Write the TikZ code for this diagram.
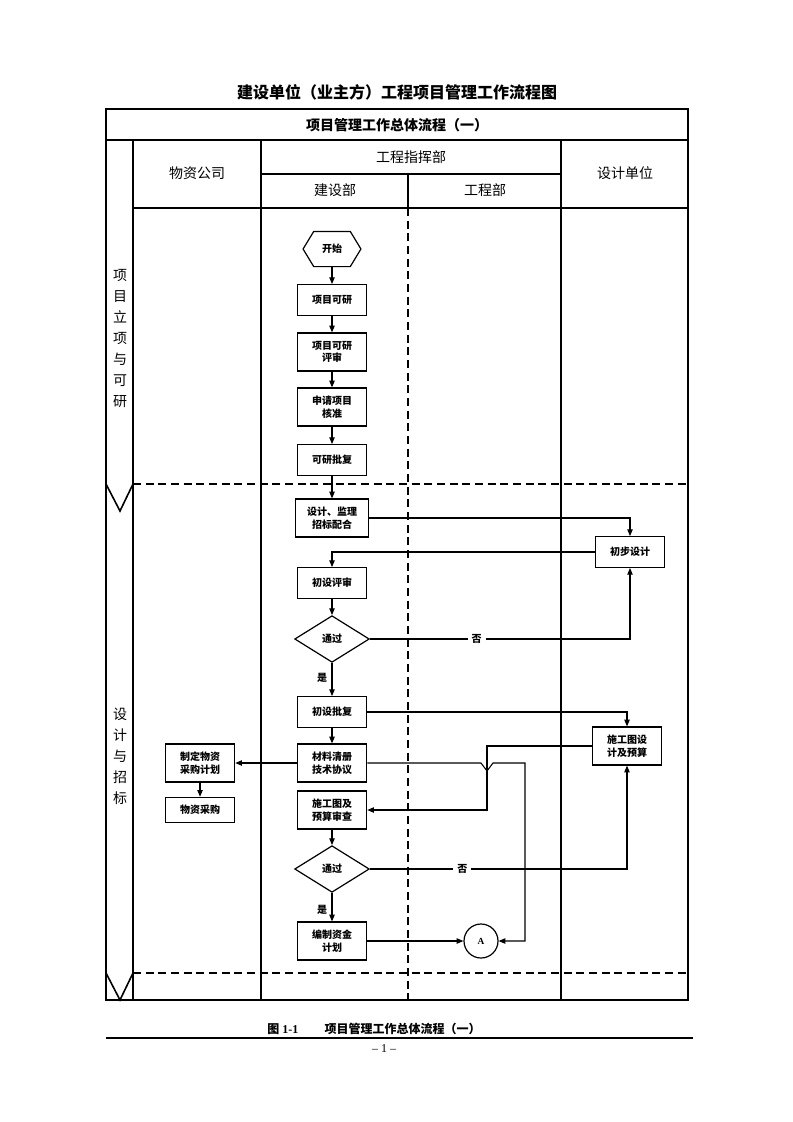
\documentclass[tikz,border=0pt]{standalone}
\usepackage{fontspec}
\setmainfont{Liberation Serif}
\newfontfamily\cjk{Noto Sans CJK SC}
\usetikzlibrary{shapes.geometric}
\usetikzlibrary{arrows.meta}

\newcommand{\boxfont}{\cjk\bfseries\fontsize{7.5}{9.5}\selectfont}
\newcommand{\headfont}{\cjk\fontsize{10.5}{12}\selectfont}

\tikzset{
    stepbox/.style={draw, line width=0.9pt, minimum width=52pt, minimum height=23pt, inner sep=1pt, align=center, font=\boxfont},
    stepbox2/.style={stepbox, minimum height=28.5pt},
    decide/.style={draw, diamond, aspect=1.6, line width=0.9pt, minimum width=56pt, minimum height=35pt, inner sep=0pt, font=\boxfont},
    flow/.style={-{Triangle[length=5pt,width=4pt]}, line width=0.8pt},
    lanesep/.style={line width=1.4pt, dash pattern=on 6pt off 3.5pt},
    headtxt/.style={font=\headfont},
    lbl/.style={font=\boxfont, fill=white, inner sep=3pt},
}

\begin{document}
\begin{tikzpicture}[x=0.75pt, y=-0.75pt]
    \useasboundingbox (0,0) rectangle (793,1122);
    \node (title) at (397,92) {\cjk\bfseries\fontsize{12}{14}\selectfont 建设单位（业主方）工程项目管理工作流程图};
    % table frame
    \draw [line width=1.5pt] (106,109) rectangle (688,1000);
    \draw [line width=1.2pt] (106,140) -- (688,140);
    \node (sub) at (397,125) {\cjk\bfseries\fontsize{10.5}{12}\selectfont 项目管理工作总体流程（一）};
    \draw [line width=1.2pt] (133,140) -- (133,1000);
    \draw [line width=1.2pt] (261,140) -- (261,1000);
    \draw [line width=1.2pt] (561,140) -- (561,1000);
    \draw [line width=1.2pt] (261,174) -- (561,174);
    \draw [line width=1.2pt] (408,174) -- (408,208);
    \draw [line width=1.2pt] (133,208) -- (688,208);
    \draw [lanesep] (408,208) -- (408,1000);
    \draw [lanesep] (133,484) -- (688,484); % stage split
    \draw [lanesep] (133,973) -- (688,973);
    \draw [line width=1.2pt] (106,484) -- (120,511) -- (133,484);
    \draw [line width=1.2pt] (106,973) -- (120,1000) -- (133,973);
    % header
    \node [headtxt] (wzgs) at (197,173) {物资公司};
    \node [headtxt] (zhb) at (411,157) {工程指挥部};
    \node [headtxt] (jsb) at (335,190) {建设部};
    \node [headtxt] (gcb) at (485,190) {工程部};
    \node [headtxt] (sjdw) at (625,173) {设计单位};
    % stages
    \node [align=center, font=\cjk\fontsize{10.5}{15.75}\selectfont] (stage1) at (120,339) {项\\目\\立\\项\\与\\可\\研};
    \node [align=center, font=\cjk\fontsize{10.5}{15.75}\selectfont] (stage2) at (120,756) {设\\计\\与\\招\\标};
    % project approval
    \node [minimum width=27pt, minimum height=26pt, font=\boxfont] (start) at (332,249) {开始};
    \draw [line width=0.9pt] (start.north west) -- (start.north east) -- ([xshift=8pt]start.east) -- (start.south east) -- (start.south west) -- ([xshift=-8pt]start.west) -- cycle;
    \node [stepbox] (kyan) at (332,300) {项目可研};
    \node [stepbox2] (kyps) at (332,352) {项目可研\\评审};
    \node [stepbox2] (sqhz) at (332,407) {申请项目\\核准};
    \node [stepbox] (kypf) at (332,460) {可研批复};
    \draw [flow] (start) -- (kyan);
    \draw [flow] (kyan) -- (kyps);
    \draw [flow] (kyps) -- (sqhz);
    \draw [flow] (sqhz) -- (kypf);
    % design and tender
    \node [stepbox2, minimum width=55pt] (zbph) at (332,518) {设计、监理\\招标配合};
    \node [stepbox] (cbsj) at (630,552) {初步设计};
    \node [stepbox] (csps) at (332,583) {初设评审};
    \node [decide] (pass1) at (332,639) {通过};
    \node [stepbox] (cspf) at (332,712) {初设批复};
    \node [stepbox2] (sgsj) at (627,746) {施工图设\\计及预算};
    \node [stepbox2] (zdcg) at (200,763) {制定物资\\采购计划};
    \node [stepbox, minimum height=19pt] (wzcg) at (200,810) {物资采购};
    \node [stepbox2] (clqc) at (332,763) {材料清册\\技术协议};
    \node [stepbox2] (sgsc) at (332,810) {施工图及\\预算审查};
    \node [decide] (pass2) at (332,869) {通过};
    \node [stepbox2] (bzzj) at (332,941) {编制资金\\计划};
    \node [draw, circle, line width=0.9pt, minimum size=25.5pt, inner sep=0pt, font=\bfseries\fontsize{7}{8}\selectfont] (A) at (481,941) {A};
    \coordinate (hop) at (487,763);
    \coordinate (turn) at (525,941);
    \draw [flow] (kypf) -- (zbph);
    \draw [flow] (zbph.east) -| (cbsj.north);
    \draw [flow] (cbsj.west) -| (csps.north);
    \draw [flow] (csps) -- (pass1);
    \draw [flow] (pass1.east) -| node [lbl, pos=0.205] {否} (cbsj.south);
    \draw [flow] (pass1) -- node [left, font=\boxfont, pos=0.45] {是} (cspf);
    \draw [flow] (cspf.east) -| (sgsj.north);
    \draw [flow] (cspf) -- (clqc);
    \draw [flow] (clqc) -- (zdcg);
    \draw [flow] (zdcg) -- (wzcg);
    \draw [flow] (sgsj.west) -| (hop) |- (sgsc.east);
    \draw [flow] (clqc.east) -- ([xshift=-4.5pt]hop) -- ++(6,8) -- ++(6,-8) -| (turn) -- (A);
    \draw [flow] (sgsc) -- (pass2);
    \draw [flow] (pass2.east) -| node [lbl, pos=0.18] {否} (sgsj.south);
    \draw [flow] (pass2) -- node [left, font=\boxfont, pos=0.6] {是} (bzzj);
    \draw [flow] (bzzj) -- (A);
    % caption
    \node (cap) at (374,1029) {\fontsize{9}{11}\selectfont{\cjk\bfseries 图} \textbf{1-1}\hspace{2.2em}{\cjk\bfseries 项目管理工作总体流程（一）}};
    \draw [line width=2.2pt] (106,1038) -- (693,1038);
    \node (page) at (384,1049) {\fontsize{9}{11}\selectfont -- 1 --};
\end{tikzpicture}
\end{document}
